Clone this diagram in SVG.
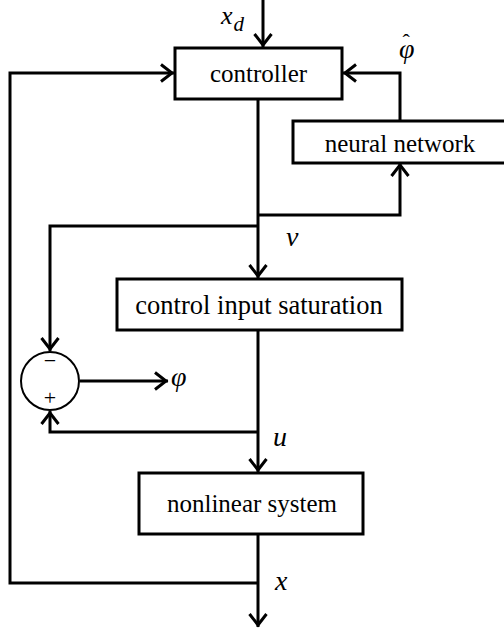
<svg xmlns="http://www.w3.org/2000/svg" width="504" height="629" viewBox="0 0 504 629">
  <style>
    .box { fill: #fff; stroke: #000; stroke-width: 3; }
    text { font-family: 'Liberation Serif', 'Times New Roman', serif; fill: #000; }
    .lbl { font-size: 25px; text-anchor: middle; }
    .var { font-style: italic; font-size: 28px; }
    .wire { fill: none; stroke: #000; stroke-width: 3; }
    .sign { font-size: 22px; text-anchor: middle; }
  </style>
  <defs>
    <marker id="arr" viewBox="-16 -11 18 22" refX="0" refY="0" markerWidth="18" markerHeight="22" orient="auto" markerUnits="userSpaceOnUse">
      <path d="M-13,-8.5 L-2,0 L-13,8.5" fill="none" stroke="#000" stroke-width="3"/>
    </marker>
  </defs>

  <rect width="504" height="629" fill="#fff"/>

  <!-- signal lines -->
  <g id="connectors">
    <path class="wire" d="M263,0 V47" marker-end="url(#arr)"/>
    <path class="wire" d="M258,583 H10 V73 H174" marker-end="url(#arr)"/>
    <path class="wire" d="M258,534 V627" marker-end="url(#arr)"/>
    <path class="wire" d="M258,99 V278" marker-end="url(#arr)"/>
    <path class="wire" d="M258,215 H400 V163" marker-end="url(#arr)"/>
    <path class="wire" d="M400,121 V73 H343" marker-end="url(#arr)"/>
    <path class="wire" d="M258,226 H50 V351" marker-end="url(#arr)"/>
    <path class="wire" d="M258,330 V472" marker-end="url(#arr)"/>
    <path class="wire" d="M258,432 H50 V411" marker-end="url(#arr)"/>
    <path class="wire" d="M80,381 H168" marker-end="url(#arr)"/>
  </g>

  <g id="controller">
    <rect class="box" x="175" y="48" width="167" height="51"/>
    <text class="lbl" x="258.5" y="82">controller</text>
  </g>

  <g id="neural-network">
    <rect class="box" x="293" y="121" width="220" height="42"/>
    <text class="lbl" x="400" y="152">neural network</text>
  </g>

  <g id="saturation">
    <rect class="box" x="117" y="279" width="285" height="51"/>
    <text class="lbl" x="259" y="314" style="font-size:26.5px">control input saturation</text>
  </g>

  <g id="nonlinear-system">
    <rect class="box" x="139" y="473" width="224" height="61"/>
    <text class="lbl" x="252" y="512">nonlinear system</text>
  </g>

  <g id="sum">
    <circle cx="50" cy="381" r="29" fill="#fff" stroke="#000" stroke-width="2"/>
    <text class="sign" x="50" y="368">−</text>
    <text class="sign" x="50" y="405">+</text>
  </g>

  <!-- signal names -->
  <g id="labels">
    <text class="var" x="221" y="24" style="font-size:26px">x<tspan dx="1" dy="7" style="font-size:21px">d</tspan></text>
    <text class="var" x="399" y="58">φ<tspan dx="-12" dy="-9" style="font-style:normal;font-size:22px">ˆ</tspan></text>
    <text class="var" x="286" y="246">v</text>
    <text class="var" x="171" y="386">φ</text>
    <text class="var" x="273" y="446">u</text>
    <text class="var" x="275" y="590">x</text>
  </g>
</svg>
